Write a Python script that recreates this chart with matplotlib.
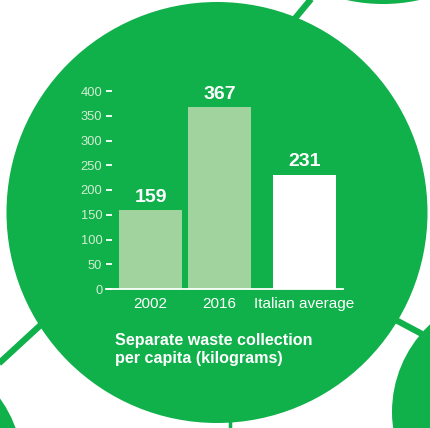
import matplotlib.pyplot as plt
from matplotlib.patches import Circle

plt.rcParams['font.family'] = ['Liberation Sans', 'DejaVu Sans']

# data
categories = ['2002', '2016', 'Italian average']
values = [159, 367, 231]
yticks = [0, 50, 100, 150, 200, 250, 300, 350, 400]
title_lines = ['Separate waste collection', 'per capita (kilograms)']

GREEN = '#10b04b'
LIGHT = '#a1d39f'
TICKCOL = '#d2eed2'

W, H = 430, 428
fig = plt.figure(figsize=(W / 100, H / 100), dpi=100)
fig.patch.set_facecolor('white')

# background layer in pixel coordinates
bg = fig.add_axes([0, 0, 1, 1])
bg.set_xlim(0, W)
bg.set_ylim(H, 0)
bg.axis('off')

# bubbles
bg.add_patch(Circle((217, 212.5), 210.5, color=GREEN, lw=0))
bg.add_patch(Circle((383, -164), 168, color=GREEN, lw=0))
bg.add_patch(Circle((-100, 470), 123, color=GREEN, lw=0))
bg.add_patch(Circle((512, 412), 120, color=GREEN, lw=0))

# connectors between bubbles
bg.plot([292, 312], [22, -2], color=GREEN, lw=4.5, solid_capstyle='butt')
bg.plot([45, -5], [321, 367], color=GREEN, lw=4.5, solid_capstyle='butt')
bg.plot([392, 422], [318, 334], color=GREEN, lw=4.5, solid_capstyle='butt')
bg.plot([230, 230], [415, 430], color=GREEN, lw=2.5, solid_capstyle='butt')

# caption
bg.text(115, 344.5, title_lines[0], color='white', fontsize=11.6,
        fontweight='bold', va='baseline', ha='left')
bg.text(115, 362.5, title_lines[1], color='white', fontsize=11.6,
        fontweight='bold', va='baseline', ha='left')

# bar chart
ax = fig.add_axes([106 / W, (H - 289) / H, 237 / W, 198 / H])
ax.patch.set_alpha(0)
positions = [0, 1, 2.232]
colors = [LIGHT, LIGHT, 'white']
bars = ax.bar(positions, values, width=0.913, color=colors, zorder=1)
ax.set_xlim(-0.645, 2.79)
ax.set_ylim(0, 400)

for b, v in zip(bars, values):
    ax.annotate(str(v), (b.get_x() + b.get_width() / 2, v),
                xytext=(0, 6), textcoords='offset points',
                ha='center', va='baseline', color='white',
                fontsize=14, fontweight='bold')

for s in ['top', 'right', 'left']:
    ax.spines[s].set_visible(False)
ax.spines['bottom'].set_color('white')
ax.spines['bottom'].set_linewidth(1.3)
ax.spines['bottom'].set_zorder(3)

ax.set_yticks(yticks)
ax.tick_params(axis='y', direction='in', length=4.3, width=1.3,
               color='white', labelcolor=TICKCOL, labelsize=9.3, pad=2.7)
ax.set_xticks(positions)
ax.set_xticklabels(categories)
ax.tick_params(axis='x', length=0, labelcolor='white', labelsize=11, pad=6)

fig.savefig('out.png', dpi=100, facecolor='white')
